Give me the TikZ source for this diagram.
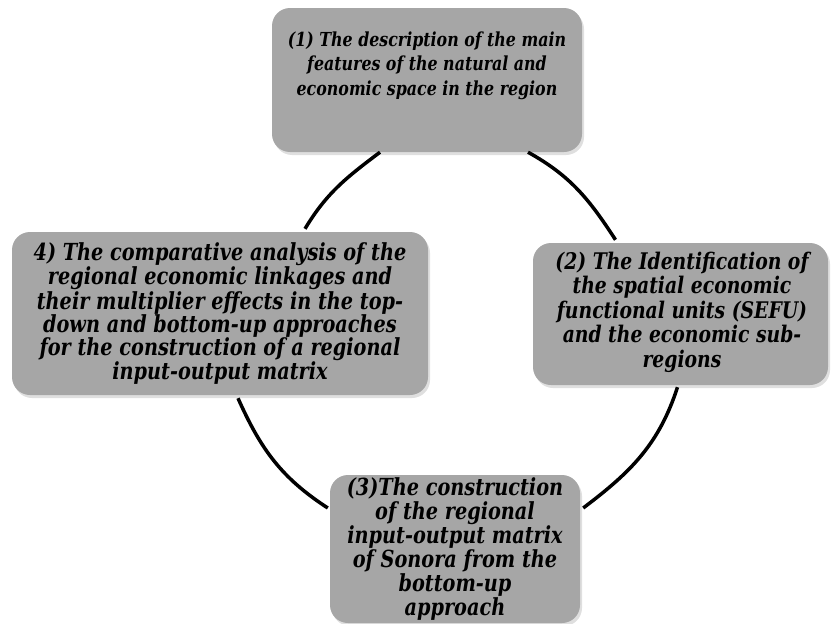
\documentclass[tikz,border=0pt]{standalone}
\usepackage{fontspec}
\setmainfont[FakeStretch=0.82]{DejaVu Serif}
\definecolor{boxgray}{RGB}{166,166,166}
\usetikzlibrary{shadows}

\begin{document}
\begin{tikzpicture}[x=1pt, y=1pt, every node/.style={font=\fontsize{23}{24}\selectfont\bfseries\itshape},
  bx/.style={rounded corners=18pt, fill=boxgray, draw=none, inner sep=0pt,
    drop shadow={opacity=0.25, shadow xshift=2pt, shadow yshift=-3pt}},
  tx/.style={align=center, inner sep=0pt},
  arc/.style={line width=3.5pt}]
\useasboundingbox (0,0) rectangle (831,-624);
% Boxes
\node[bx, minimum width=310pt, minimum height=144pt] (n1) at (427,-80) {};
\node[bx, minimum width=295pt, minimum height=142pt] (n2) at (680.5,-314) {};
\node[bx, minimum width=250pt, minimum height=148pt] (n3) at (455,-549) {};
\node[bx, minimum width=416pt, minimum height=163pt] (n4) at (220,-313.5) {};
% Texts
\node[tx, font=\fontsize{19.3}{24.5}\selectfont\bfseries\itshape] (t1) at (427,-65.5) {(1) The description of the main\\features of the natural and\\economic space in the region};
\node[tx, font=\fontsize{22.9}{24.5}\selectfont\bfseries\itshape] (t2) at (682,-312) {(2) The Identification of\\the spatial economic\\functional units (SEFU)\\and the economic sub-\\regions};
\node[tx, font=\fontsize{23.5}{24}\selectfont\bfseries\itshape] (t3) at (455,-549) {(3)The construction\\of the regional\\input-output matrix\\of Sonora from the\\bottom-up\\approach};
\node[tx, font=\fontsize{23.5}{23}\selectfont\bfseries\itshape] (t4) at (220,-313.5) {4) The comparative analysis of the\\regional economic linkages and\\their multiplier effects in the top-\\down and bottom-up approaches\\for the construction of a regional\\input-output matrix};
% Cycle
\draw[arc] ([xshift=-47pt]n1.south) to[out=217, in=59] ([xshift=85pt, yshift=3pt]n4.north);
\draw[arc] ([xshift=101pt]n1.south) to[out=-29, in=123] ([xshift=-65pt, yshift=3pt]n2.north);
\draw[arc] ([xshift=-3pt, yshift=-2pt]n2.south) to[out=252, in=37] ([xshift=3pt, yshift=41pt]n3.east);
\draw[arc] ([xshift=18pt, yshift=-3pt]n4.south) to[out=-66, in=147] ([xshift=-2pt, yshift=41pt]n3.west);
\end{tikzpicture}
\end{document}
